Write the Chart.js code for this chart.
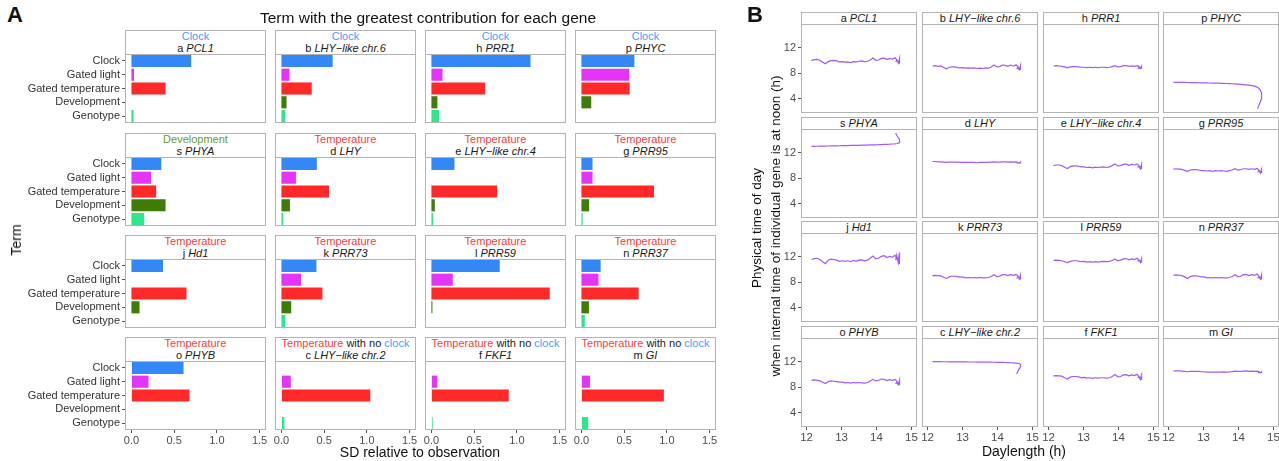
<!DOCTYPE html>
<html><head><meta charset="utf-8">
<script src="https://cdn.jsdelivr.net/npm/chart.js@4.4.1/dist/chart.umd.min.js"></script>
<style>
body{margin:0;background:#fff;}
#root{position:relative;width:1279px;height:461px;overflow:hidden;font-family:'Liberation Sans',Arial,sans-serif;color:#1a1a1a;}
.strip{position:absolute;box-sizing:border-box;border:1px solid #b3b3b3;background:#fff;text-align:center;font-size:11px;color:#1a1a1a;white-space:nowrap;overflow:hidden;display:flex;flex-direction:column;justify-content:center}
.t{position:absolute;white-space:nowrap}
canvas{position:absolute}
</style></head>
<body><div id="root"></div>
<script>
// ---------- DATA ----------
const terms = ['Clock','Gated light','Gated temperature','Development','Genotype'];
const termColors = ['#3388f6','#e435f6','#ff2929','#3f7c05','#2ee68b'];
const sdTicks = [0, 0.5, 1, 1.5];
const dayTicks = [12, 13, 14, 15];
const phaseTicks = [4, 8, 12];

const geneLetters = ['a','b','h','p','s','d','e','g','j','k','l','n','o','c','f','m'];
const geneNames = ['PCL1','LHY\u2212like chr.6','PRR1','PHYC','PHYA','LHY','LHY\u2212like chr.4','PRR95','Hd1','PRR73','PRR59','PRR37','PHYB','LHY\u2212like chr.2','FKF1','GI'];
const geneTerm = ['Clock','Clock','Clock','Clock','Development','Temperature','Temperature','Temperature','Temperature','Temperature','Temperature','Temperature','Temperature','Temperature with no clock','Temperature with no clock','Temperature with no clock'];

// SD relative to observation: [Clock, Gated light, Gated temperature, Development, Genotype]
const sdPCL1  = [0.70, 0.03, 0.40, 0, 0.025];
const sdLHY6  = [0.60, 0.095, 0.355, 0.06, 0.045];
const sdPRR1  = [1.16, 0.13, 0.63, 0.07, 0.09];
const sdPHYC  = [0.62, 0.56, 0.565, 0.115, 0];
const sdPHYA  = [0.35, 0.23, 0.29, 0.40, 0.15];
const sdLHY   = [0.415, 0.17, 0.557, 0.10, 0.02];
const sdLHY4  = [0.27, 0, 0.77, 0.04, 0.02];
const sdPRR95 = [0.13, 0.13, 0.85, 0.09, 0.015];
const sdHd1   = [0.37, 0, 0.645, 0.095, 0];
const sdPRR73 = [0.41, 0.23, 0.48, 0.115, 0.045];
const sdPRR59 = [0.80, 0.25, 1.385, 0.012, 0];
const sdPRR37 = [0.225, 0.20, 0.67, 0.088, 0.04];
const sdPHYB  = [0.61, 0.20, 0.68, 0, 0];
const sdLHY2  = [0, 0.11, 1.04, 0, 0.035];
const sdFKF1  = [0, 0.07, 0.905, 0, 0.015];
const sdGI    = [0, 0.10, 0.965, 0, 0.08];

// Daylength (h) along the season
const daylength = [12.14,12.22,12.30,12.38,12.46,12.54,12.62,12.70,12.78,12.86,12.94,13.02,13.10,13.18,13.26,13.34,13.42,13.50,13.58,13.66,13.74,13.82,13.90,13.98,14.06,14.14,14.22,14.30,14.38,14.46,14.53,14.59,14.63,14.66,14.67,14.65,14.62,14.58,14.55];
// Physical time of day when internal time is at noon (h)
const phPCL1  = [10.0,10.15,10.2,10.05,9.75,9.5,9.85,10.0,10.05,9.95,9.8,9.85,9.75,9.8,9.7,9.85,9.8,9.9,9.95,9.8,9.9,10.1,10.4,10.05,10.1,10.35,10.4,10.2,10.35,10.25,10.45,10.1,9.6,10.3,9.5,10.2,9.7,10.1,9.8];
const phLHY6  = [9.15,9.2,9.1,9.15,8.9,8.7,8.95,9.0,9.0,8.9,8.85,8.9,8.8,8.85,8.8,8.85,8.75,8.8,8.75,8.85,8.8,9.0,9.3,9.0,9.05,9.3,9.25,9.1,9.3,9.15,9.35,9.0,8.6,9.2,8.5,9.1,8.6,8.9,8.7];
const phPRR1  = [9.15,9.2,9.15,9.1,9.0,8.85,9.0,9.05,9.05,9.0,8.95,8.95,8.9,8.95,8.9,8.95,8.9,8.95,8.95,8.9,8.95,9.05,9.2,9.0,9.05,9.2,9.2,9.1,9.15,9.1,9.2,9.05,8.8,9.1,8.7,9.0,8.75,8.9,8.7];
const phPHYC  = [6.56,6.56,6.55,6.55,6.54,6.53,6.52,6.51,6.5,6.49,6.48,6.47,6.46,6.45,6.44,6.43,6.42,6.4,6.39,6.37,6.35,6.33,6.31,6.28,6.25,6.21,6.16,6.11,6.04,5.95,5.8,5.6,5.3,4.9,4.5,3.9,3.4,2.9,2.4];
const phPHYA  = [13.05,13.06,13.07,13.08,13.09,13.1,13.11,13.12,13.13,13.14,13.15,13.16,13.17,13.18,13.19,13.2,13.21,13.22,13.23,13.24,13.26,13.27,13.28,13.3,13.31,13.33,13.35,13.37,13.39,13.42,13.45,13.5,13.55,13.65,13.8,14.1,14.45,14.8,15.15];
const phLHY   = [10.65,10.65,10.6,10.6,10.55,10.5,10.55,10.55,10.55,10.55,10.5,10.5,10.5,10.5,10.5,10.5,10.45,10.5,10.5,10.5,10.5,10.55,10.6,10.55,10.55,10.6,10.6,10.55,10.6,10.55,10.6,10.5,10.4,10.55,10.35,10.5,10.4,10.45,10.4];
const phLHY4  = [10.0,10.1,10.1,10.0,9.75,9.55,9.85,9.95,9.95,9.9,9.8,9.8,9.7,9.75,9.65,9.75,9.7,9.75,9.8,9.7,9.8,10.0,10.25,9.95,10.0,10.2,10.25,10.05,10.2,10.1,10.25,9.95,9.5,10.15,9.45,10.05,9.55,9.95,9.7];
const phPRR95 = [9.45,9.5,9.45,9.4,9.25,9.1,9.3,9.35,9.35,9.3,9.2,9.2,9.15,9.2,9.1,9.2,9.15,9.2,9.15,9.1,9.2,9.3,9.5,9.3,9.35,9.5,9.5,9.4,9.5,9.4,9.55,9.3,8.85,9.4,8.8,9.3,8.9,9.2,8.95];
const phHd1   = [11.6,11.75,11.8,11.6,11.25,10.95,11.5,11.65,11.6,11.5,11.3,11.4,11.3,11.4,11.25,11.45,11.35,11.5,11.55,11.4,11.5,11.8,12.15,11.7,11.8,12.1,12.2,11.9,12.1,11.95,12.3,11.7,11.1,12.5,10.9,12.7,11.2,12.3,11.5];
const phPRR73 = [9.05,9.1,9.05,9.0,8.8,8.6,8.85,8.95,8.95,8.9,8.8,8.8,8.7,8.75,8.7,8.75,8.7,8.75,8.7,8.7,8.75,8.9,9.2,8.9,8.95,9.2,9.2,9.05,9.2,9.1,9.25,8.95,8.5,9.1,8.45,9.0,8.55,8.9,8.6];
const phPRR59 = [11.45,11.5,11.45,11.4,11.25,11.1,11.3,11.4,11.4,11.35,11.25,11.3,11.2,11.25,11.2,11.25,11.2,11.25,11.3,11.25,11.3,11.45,11.7,11.4,11.5,11.7,11.75,11.55,11.7,11.6,11.8,11.55,11.15,11.7,11.1,11.6,11.25,11.5,11.3];
const phPRR37 = [9.1,9.15,9.1,9.05,8.85,8.6,8.9,9.0,9.0,8.95,8.85,8.85,8.7,8.75,8.7,8.75,8.7,8.75,8.7,8.7,8.75,8.9,9.2,8.9,8.95,9.2,9.25,9.05,9.2,9.1,9.3,8.95,8.5,9.15,8.45,9.05,8.55,8.9,8.6];
const phPHYB  = [9.1,9.15,9.1,9.0,8.8,8.6,8.9,9.0,8.95,8.9,8.8,8.8,8.7,8.75,8.65,8.75,8.7,8.75,8.7,8.65,8.75,9.0,9.25,9.0,9.1,9.3,9.25,9.05,9.2,9.1,9.25,8.95,8.45,9.1,8.35,9.0,8.45,8.8,8.5];
const phLHY2  = [12.05,12.05,12.05,12.05,12.04,12.04,12.03,12.03,12.02,12.02,12.02,12.01,12.01,12.0,12.0,12.0,11.99,11.99,11.98,11.98,11.97,11.97,11.96,11.95,11.94,11.93,11.92,11.9,11.88,11.85,11.82,11.78,11.72,11.6,11.45,11.2,10.9,10.5,10.1];
const phFKF1  = [9.8,9.85,9.8,9.75,9.5,9.3,9.6,9.7,9.7,9.65,9.5,9.55,9.45,9.5,9.4,9.5,9.45,9.5,9.5,9.45,9.5,9.7,10.0,9.65,9.7,9.95,10.0,9.8,9.95,9.85,10.05,9.7,9.3,9.9,9.2,9.8,9.3,9.7,9.5];
const phGI    = [10.6,10.6,10.6,10.55,10.5,10.45,10.5,10.5,10.5,10.5,10.45,10.45,10.4,10.4,10.4,10.4,10.4,10.4,10.42,10.4,10.42,10.48,10.55,10.5,10.5,10.55,10.58,10.52,10.55,10.5,10.55,10.45,10.3,10.45,10.25,10.4,10.3,10.35,10.3];

const sdByGene = [sdPCL1,sdLHY6,sdPRR1,sdPHYC,sdPHYA,sdLHY,sdLHY4,sdPRR95,sdHd1,sdPRR73,sdPRR59,sdPRR37,sdPHYB,sdLHY2,sdFKF1,sdGI];
const phaseByGene = [phPCL1,phLHY6,phPRR1,phPHYC,phPHYA,phLHY,phLHY4,phPRR95,phHd1,phPRR73,phPRR59,phPRR37,phPHYB,phLHY2,phFKF1,phGI];

// ---------- LAYOUT ----------
const FONT = "'Liberation Sans', Arial, sans-serif";
Chart.defaults.font.family = FONT;
Chart.defaults.animation = false;
const root = document.getElementById('root');
const PAD = 12;
const A_cols = [125, 275, 425, 575], A_W = 141, A_tops = [54, 157, 259, 361], A_H = 69;
const B_cols = [801, 922, 1043, 1163], B_W = 116, B_tops = [24, 129, 233, 338], B_H = 89;

const boxPlugin = {
  id: 'box',
  afterDraw(chart) {
    const a = chart.chartArea, c = chart.ctx;
    c.save(); c.strokeStyle = '#b3b3b3'; c.lineWidth = 1;
    c.strokeRect(Math.round(a.left) + 0.5, Math.round(a.top) + 0.5, Math.round(a.right - a.left) - 1, Math.round(a.bottom - a.top) - 1);
    c.restore();
  }
};

function makeChart(plotL, plotT, plotW, plotH, yW, xH, config) {
  const cv = document.createElement('canvas');
  const L = plotL - PAD - yW, T = plotT - PAD;
  const W = plotW + 2 * PAD + yW, H = plotH + 2 * PAD + xH;
  cv.width = W; cv.height = H;
  cv.style.left = L + 'px'; cv.style.top = T + 'px';
  cv.style.width = W + 'px'; cv.style.height = H + 'px';
  root.appendChild(cv);
  config.options.layout = { padding: { left: PAD, right: PAD, top: PAD, bottom: PAD } };
  config.options.responsive = false;
  config.options.maintainAspectRatio = false;
  config.options.plugins = { legend: { display: false }, tooltip: { enabled: false } };
  config.plugins = [boxPlugin];
  new Chart(cv.getContext('2d'), config);
}

function addText(html, x, y, style) {
  const d = document.createElement('div');
  d.className = 't';
  d.innerHTML = html;
  d.style.cssText += style;
  d.style.left = x + 'px'; d.style.top = y + 'px';
  root.appendChild(d);
  return d;
}

function headline(term) {
  if (term === 'Clock') return '<span style="color:#4a9aff">Clock</span>';
  if (term === 'Development') return '<span style="color:#6a9a2c">Development</span>';
  if (term === 'Temperature') return '<span style="color:#ff3b3b">Temperature</span>';
  return '<span style="color:#ff3b3b">Temperature</span> with no <span style="color:#4a9aff">clock</span>';
}

const tickFont = { size: 11, family: FONT };
const tickCol = '#4d4d4d';
function fixH(h) { return s => { s.height = h; }; }
function fixW(w) { return s => { s.width = w; }; }

// ---------- PANEL A ----------
for (let i = 0; i < 16; i++) {
  const r = Math.floor(i / 4), c = i % 4;
  const showY = c === 0, showX = r === 3;
  const yW = showY ? 110 : 0, xH = showX ? 18 : 0;
  const xs = {
    type: 'linear', min: -0.075, max: 1.575, display: showX,
    afterBuildTicks: s => { s.ticks = sdTicks.map(v => ({ value: v })); },
    ticks: { callback: v => Number(v).toFixed(1), font: tickFont, color: tickCol, padding: 1, maxRotation: 0, autoSkip: false },
    grid: { drawOnChartArea: false, drawTicks: true, tickLength: 3, color: '#555' },
    border: { display: false }
  };
  if (showX) xs.afterFit = fixH(18);
  const ys = {
    type: 'category', labels: terms, display: showY, offset: true,
    ticks: { font: { size: 11, family: FONT }, color: '#333', padding: 2, autoSkip: false },
    grid: { offset: false, drawOnChartArea: false, drawTicks: true, tickLength: 3, color: '#555' },
    border: { display: false }
  };
  if (showY) ys.afterFit = fixW(110);
  makeChart(A_cols[c], A_tops[r], A_W, A_H, yW, xH, {
    type: 'bar',
    data: { labels: terms, datasets: [{ data: sdByGene[i], backgroundColor: termColors, borderWidth: 0, barPercentage: 0.88, categoryPercentage: 1 }] },
    options: { indexAxis: 'y', scales: { x: xs, y: ys } }
  });
  const st = document.createElement('div');
  st.className = 'strip';
  st.style.left = A_cols[c] + 'px'; st.style.top = (A_tops[r] - 24) + 'px';
  st.style.width = A_W + 'px'; st.style.height = '25px';
  st.style.lineHeight = '11.5px';
  st.innerHTML = '<div>' + headline(geneTerm[i]) + '</div><div>' + geneLetters[i] + ' <i>' + geneNames[i] + '</i></div>';
  root.appendChild(st);
}

// ---------- PANEL B ----------
for (let i = 0; i < 16; i++) {
  const r = Math.floor(i / 4), c = i % 4;
  const showY = c === 0, showX = r === 3;
  const yW = showY ? 28 : 0, xH = showX ? 18 : 0;
  const ph = phaseByGene[i];
  const xs = {
    type: 'linear', min: 11.84, max: 15.16, display: showX,
    afterBuildTicks: s => { s.ticks = dayTicks.map(v => ({ value: v })); },
    ticks: { callback: v => v, font: { size: 11.5, family: FONT }, color: tickCol, padding: 1, maxRotation: 0, autoSkip: false },
    grid: { drawOnChartArea: false, drawTicks: true, tickLength: 3, color: '#555' },
    border: { display: false }
  };
  if (showX) xs.afterFit = fixH(18);
  const ys = {
    type: 'linear', min: 1.7, max: 15.8, display: showY,
    afterBuildTicks: s => { s.ticks = phaseTicks.map(v => ({ value: v })); },
    ticks: { callback: v => v, font: tickFont, color: tickCol, padding: 2 },
    grid: { drawOnChartArea: false, drawTicks: true, tickLength: 3, color: '#555' },
    border: { display: false }
  };
  if (showY) ys.afterFit = fixW(28);
  makeChart(B_cols[c], B_tops[r], B_W, B_H, yW, xH, {
    type: 'scatter',
    data: { datasets: [{ data: daylength.map((x, k) => ({ x: x, y: ph[k] })), showLine: true, borderColor: 'rgba(150,70,255,0.9)', borderWidth: 1.2, pointRadius: 0, fill: false, tension: 0 }] },
    options: { scales: { x: xs, y: ys } }
  });
  const st = document.createElement('div');
  st.className = 'strip';
  st.style.left = B_cols[c] + 'px'; st.style.top = (B_tops[r] - 12) + 'px';
  st.style.width = B_W + 'px'; st.style.height = '13px';
  st.style.lineHeight = '11px';
  st.innerHTML = '<div>' + geneLetters[i] + ' <i>' + geneNames[i] + '</i></div>';
  root.appendChild(st);
}

// ---------- TEXT ----------
addText('A', 7, 2, 'font-size:22px;font-weight:bold;color:#111;');
addText('B', 747, 2, 'font-size:22px;font-weight:bold;color:#111;');
addText('Term with the greatest contribution for each gene', 428, 18, 'font-size:15.5px;color:#111;transform:translate(-50%,-50%);');
addText('SD relative to observation', 420, 452, 'font-size:14px;color:#111;transform:translate(-50%,-50%);');
addText('Term', 16, 240, 'font-size:14px;color:#111;transform:translate(-50%,-50%) rotate(-90deg);');
addText('Daylength (h)', 1024, 451, 'font-size:14px;color:#111;transform:translate(-50%,-50%);');
addText('Physical time of day', 756, 228, 'font-size:13.5px;color:#111;transform:translate(-50%,-50%) rotate(-90deg);');
addText('when internal time of individual gene is at noon (h)', 775, 226, 'font-size:13.5px;color:#111;transform:translate(-50%,-50%) rotate(-90deg);');
</script>
</body></html>
